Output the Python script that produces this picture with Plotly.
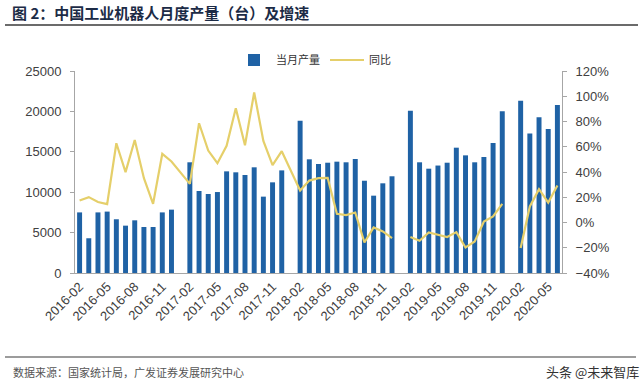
import plotly.graph_objects as go

# ---- data ----
months = [f"{y}-{m:02d}" for y in range(2016, 2021) for m in range(1, 13)]
months = [m for m in months if "2016-02" <= m <= "2020-06"]

production = {
    "2016": [7500, 4300, 7500, 7600, 6650, 5860, 6520, 5690, 5690, 7500, 7840],
    "2017": [13700, 10150, 9780, 10020, 12580, 12460, 12130, 13080, 9450, 11220, 12700],
    "2018": [18850, 14070, 13490, 13650, 13780, 13700, 14110, 11420, 9570, 11100, 11970],
    "2019": [20090, 13700, 12910, 13300, 13650, 15510, 14560, 13700, 14360, 16090, 20010],
    "2020": [21330, 17280, 19270, 17820, 20790],
}
yoy = {
    "2016": [17.4, 20.1, 16.2, 14.6, 62.8, 39.9, 65.4, 35.1, 14.8, 54.4, 48.3],
    "2017": [30.6, 78.6, 57.0, 47.0, 60.7, 90.5, 61.2, 103.0, 64.6, 45.4, 56.5],
    "2018": [25.3, 33.2, 35.1, 35.3, 6.9, 5.9, 7.9, -15.8, -3.9, -7.1, -12.3],
    "2019": [-11.5, -14.5, -7.9, -9.5, -11.5, -7.6, -19.8, -15.0, 0.8, 4.8, 14.8],
    "2020": [-20.2, 12.7, 26.4, 15.8, 29.3],
}
tick_labels = [
    "2016-02", "2016-05", "2016-08", "2016-11", "2017-02", "2017-05", "2017-08", "2017-11",
    "2018-02", "2018-05", "2018-08", "2018-11", "2019-02", "2019-05", "2019-08", "2019-11",
    "2020-02", "2020-05",
]

# bar series over all months (January missing)
bar_x, bar_y = [], []
for m in months:
    y, mm = m.split("-")
    bar_x.append(m)
    if mm == "01":
        bar_y.append(None)
    else:
        bar_y.append(production[y][int(mm) - 2])

# line series: 2017-01 / 2018-01 skipped (line connects), 2019-01 / 2020-01 break
line_x, line_y = [], []
for m in months:
    y, mm = m.split("-")
    if mm == "01":
        if y in ("2019", "2020"):
            line_x.append(m)
            line_y.append(None)
        continue
    line_x.append(m)
    line_y.append(yoy[y][int(mm) - 2])

BLUE = "#1f62a5"
YELLOW = "#e5cf6a"
AXIS = "#a6a6a6"

fig = go.Figure()
fig.add_trace(go.Bar(x=bar_x, y=bar_y, name="当月产量", marker_color=BLUE,
                     marker_line_width=0))
fig.add_trace(go.Scatter(x=line_x, y=line_y, name="同比", yaxis="y2", mode="lines",
                         line=dict(color=YELLOW, width=2.2), connectgaps=False))

L, R, T, B = 75, 78, 71, 116
W, H = 640, 389
pw = W - L - R
ph = H - T - B

def px(x):
    return (x - L) / pw

def py(y):
    return (H - B - y) / ph

tickfont = dict(family="Liberation Sans, Arial, sans-serif", size=13, color="#404040")

fig.update_layout(
    width=W, height=H,
    margin=dict(l=L, r=R, t=T, b=B),
    paper_bgcolor="white", plot_bgcolor="white",
    bargap=0.46,
    showlegend=True,
    legend=dict(orientation="h", x=px(232), y=py(60), xanchor="left", yanchor="middle",
                font=dict(family="Noto Sans CJK SC", size=11, color="#333"),
                itemwidth=34, tracegroupgap=0, bgcolor="rgba(0,0,0,0)"),
    xaxis=dict(type="category", categoryorder="array", categoryarray=months,
               tickmode="array", tickvals=tick_labels, ticktext=tick_labels,
               tickangle=-45, tickfont=tickfont, showgrid=False,
               showline=True, linecolor=AXIS, linewidth=1, ticks="", zeroline=False),
    yaxis=dict(range=[0, 25000], dtick=5000, tickformat="d", tickfont=tickfont,
               showgrid=False, showline=True, linecolor=AXIS, linewidth=1, ticks="outside",
               ticklen=4, tickcolor=AXIS, zeroline=False, ticklabelstandoff=6),
    yaxis2=dict(range=[-40, 120], dtick=20, ticksuffix="%", overlaying="y", side="right",
                tickfont=tickfont, showgrid=False, showline=True, linecolor=AXIS,
                linewidth=1, ticks="outside", ticklen=4, tickcolor=AXIS, zeroline=False,
                ticklabelstandoff=6),
    shapes=[
        dict(type="line", xref="paper", yref="paper", x0=px(5), x1=px(638),
             y0=py(25), y1=py(25), line=dict(color="#3a3a3a", width=1.5)),
        dict(type="line", xref="paper", yref="paper", x0=px(5), x1=px(636),
             y0=py(357), y1=py(357), line=dict(color="#3a3a3a", width=1.2)),
    ],
    annotations=[
        dict(text="<b>图 2：中国工业机器人月度产量（台）及增速</b>", xref="paper", yref="paper",
             x=px(10), y=py(13), xanchor="left", yanchor="middle", showarrow=False,
             font=dict(family="Noto Sans CJK SC", size=15, color="#1c2b46")),
        dict(text="数据来源：国家统计局，广发证券发展研究中心", xref="paper", yref="paper",
             x=px(11), y=py(372), xanchor="left", yanchor="middle", showarrow=False,
             font=dict(family="Noto Sans CJK SC", size=11, color="#555")),
        dict(text="头条 @未来智库", xref="paper", yref="paper",
             x=px(544), y=py(371), xanchor="left", yanchor="middle", showarrow=False,
             font=dict(family="Noto Sans CJK SC", size=13, color="#333")),
    ],
)

fig.write_html("out.html", config={"displayModeBar": False},
               post_script="document.body.style.margin='0';document.body.style.padding='0';")
